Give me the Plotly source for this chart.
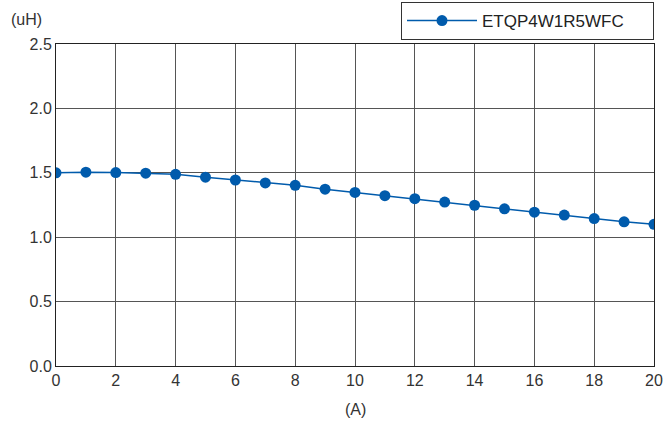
import plotly.graph_objects as go

current_a = list(range(0, 21))
inductance_uh = [1.500, 1.505, 1.502, 1.497, 1.488, 1.466, 1.444, 1.421, 1.403, 1.373,
                 1.348, 1.322, 1.299, 1.273, 1.248, 1.220, 1.194, 1.172, 1.145, 1.119, 1.100]
series_name = "ETQP4W1R5WFC"

x_ticks = list(range(0, 21, 2))
y_ticks = [0.0, 0.5, 1.0, 1.5, 2.0, 2.5]

blue = "#005BAC"
font_family = "Liberation Sans, Arial, sans-serif"
text_color = "#333333"

fig = go.Figure()
fig.add_trace(go.Scatter(
    x=current_a, y=inductance_uh, name=series_name, mode="lines+markers",
    line=dict(color=blue, width=1.5),
    marker=dict(color=blue, size=11),
))

fig.update_layout(
    width=664, height=427,
    margin=dict(l=56, r=10, t=44, b=61, autoexpand=False),
    paper_bgcolor="white", plot_bgcolor="white",
    font=dict(family=font_family, size=16, color=text_color),
    showlegend=True,
    legend=dict(x=1, xanchor="right", y=1.0124, yanchor="bottom",
                orientation="h",
                bordercolor="#333333", borderwidth=1, bgcolor="white",
                font=dict(size=17, color="#222222"),
                entrywidth=166, itemwidth=70),
    xaxis=dict(range=[0, 20], tickvals=x_ticks, ticktext=[str(v) for v in x_ticks],
               showgrid=True, gridcolor="#555555", gridwidth=1,
               showline=True, linecolor="#222222", linewidth=1, mirror=True,
               zeroline=False, ticks="", ticklen=0),
    yaxis=dict(range=[0, 2.5], tickvals=y_ticks, ticktext=[f"{v:.1f}" for v in y_ticks],
               showgrid=True, gridcolor="#555555", gridwidth=1,
               showline=True, linecolor="#222222", linewidth=1, mirror=True,
               zeroline=False, ticks="", ticklen=0),
    annotations=[
        dict(text="(uH)", x=0, xref="paper", xanchor="right", xshift=-12,
             y=1, yref="paper", yanchor="bottom", yshift=14, showarrow=False,
             font=dict(size=16, color=text_color)),
        dict(text="(A)", x=0.5, xref="paper", xanchor="center",
             y=0, yref="paper", yanchor="top", yshift=-33, showarrow=False,
             font=dict(size=16, color=text_color)),
    ],
)

fig.write_html("out.html", config={"displayModeBar": False},
               post_script="document.body.style.margin='0';")
